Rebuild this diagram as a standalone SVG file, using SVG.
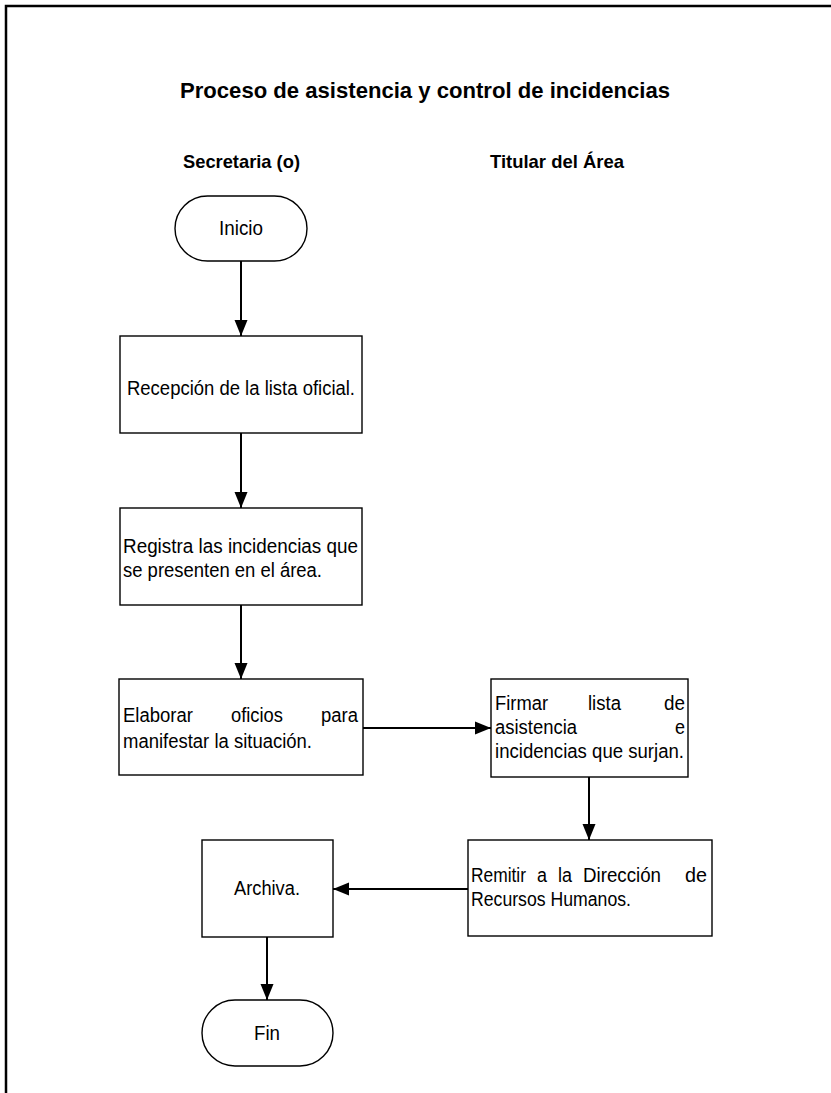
<svg xmlns="http://www.w3.org/2000/svg" width="831" height="1093" viewBox="0 0 831 1093">
<style>
.box{fill:#fff;stroke:#000;stroke-width:1.4}
.t{font-family:"Liberation Sans",Arial,sans-serif;font-size:20px;fill:#000}
.h{font-family:"Liberation Sans",Arial,sans-serif;font-weight:bold;fill:#000}
.c{fill:none;stroke:#000;stroke-width:2}
</style>
<defs>
<marker id="ah" markerUnits="userSpaceOnUse" markerWidth="16" markerHeight="14" refX="16" refY="7" orient="auto">
<path d="M0,0.5 L16,7 L0,13.5 z" fill="#000"/>
</marker>
</defs>
<rect width="831" height="1093" fill="#fff"/>
<path d="M6,1093 V6 H831" fill="none" stroke="#000" stroke-width="2.5"/>
<text class="h" x="180" y="98" font-size="22" textLength="490" lengthAdjust="spacingAndGlyphs">Proceso de asistencia y control de incidencias</text>
<text class="h" x="183" y="168" font-size="18.5" textLength="117" lengthAdjust="spacingAndGlyphs">Secretaria (o)</text>
<text class="h" x="490" y="168" font-size="18.5" textLength="134" lengthAdjust="spacingAndGlyphs">Titular del Área</text>

<g id="connectors">
<line class="c" x1="241" y1="261" x2="241" y2="336" marker-end="url(#ah)"/>
<line class="c" x1="241" y1="433" x2="241" y2="508" marker-end="url(#ah)"/>
<line class="c" x1="241" y1="605" x2="241" y2="679" marker-end="url(#ah)"/>
<line class="c" x1="363" y1="728" x2="491" y2="728" marker-end="url(#ah)"/>
<line class="c" x1="589" y1="777" x2="589" y2="840" marker-end="url(#ah)"/>
<line class="c" x1="468" y1="889" x2="333" y2="889" marker-end="url(#ah)"/>
<line class="c" x1="267" y1="937" x2="267" y2="1000" marker-end="url(#ah)"/>
</g>

<g id="inicio">
<rect class="box" x="175" y="196" width="132" height="65" rx="32.5"/>
<text class="t" x="219" y="235" textLength="44" lengthAdjust="spacingAndGlyphs">Inicio</text>
</g>
<g id="recepcion">
<rect class="box" x="120" y="336" width="242" height="97"/>
<text class="t" x="127" y="395" textLength="228" lengthAdjust="spacingAndGlyphs">Recepción de la lista oficial.</text>
</g>
<g id="registra">
<rect class="box" x="120" y="508" width="242" height="97"/>
<text class="t" x="123" y="553" textLength="235" lengthAdjust="spacingAndGlyphs">Registra las incidencias que</text>
<text class="t" x="123" y="577" textLength="199" lengthAdjust="spacingAndGlyphs">se presenten en el área.</text>
</g>
<g id="elaborar">
<rect class="box" x="119" y="679" width="244" height="96"/>
<text class="t" x="123" y="722" textLength="70" lengthAdjust="spacingAndGlyphs">Elaborar</text>
<text class="t" x="231" y="722" textLength="52" lengthAdjust="spacingAndGlyphs">oficios</text>
<text class="t" x="321" y="722" textLength="37" lengthAdjust="spacingAndGlyphs">para</text>
<text class="t" x="123" y="748" textLength="189" lengthAdjust="spacingAndGlyphs">manifestar la situación.</text>
</g>
<g id="firmar">
<rect class="box" x="491" y="679" width="197" height="98"/>
<text class="t" x="495" y="710" textLength="53" lengthAdjust="spacingAndGlyphs">Firmar</text>
<text class="t" x="588" y="710" textLength="33" lengthAdjust="spacingAndGlyphs">lista</text>
<text class="t" x="664" y="710" textLength="21" lengthAdjust="spacingAndGlyphs">de</text>
<text class="t" x="495" y="734" textLength="82" lengthAdjust="spacingAndGlyphs">asistencia</text>
<text class="t" x="675" y="734" textLength="10" lengthAdjust="spacingAndGlyphs">e</text>
<text class="t" x="495" y="758" textLength="189" lengthAdjust="spacingAndGlyphs">incidencias que surjan.</text>
</g>
<g id="remitir">
<rect class="box" x="468" y="840" width="244" height="96"/>
<text class="t" x="471" y="882" textLength="55" lengthAdjust="spacingAndGlyphs">Remitir</text>
<text class="t" x="537" y="882" textLength="10" lengthAdjust="spacingAndGlyphs">a</text>
<text class="t" x="558" y="882" textLength="14" lengthAdjust="spacingAndGlyphs">la</text>
<text class="t" x="583" y="882" textLength="78" lengthAdjust="spacingAndGlyphs">Dirección</text>
<text class="t" x="685" y="882" textLength="22" lengthAdjust="spacingAndGlyphs">de</text>
<text class="t" x="471" y="906" textLength="160" lengthAdjust="spacingAndGlyphs">Recursos Humanos.</text>
</g>
<g id="archiva">
<rect class="box" x="202" y="840" width="131" height="97"/>
<text class="t" x="234" y="895" textLength="66" lengthAdjust="spacingAndGlyphs">Archiva.</text>
</g>
<g id="fin">
<rect class="box" x="202" y="1000" width="131" height="66" rx="33"/>
<text class="t" x="254" y="1040" textLength="26" lengthAdjust="spacingAndGlyphs">Fin</text>
</g>
</svg>
